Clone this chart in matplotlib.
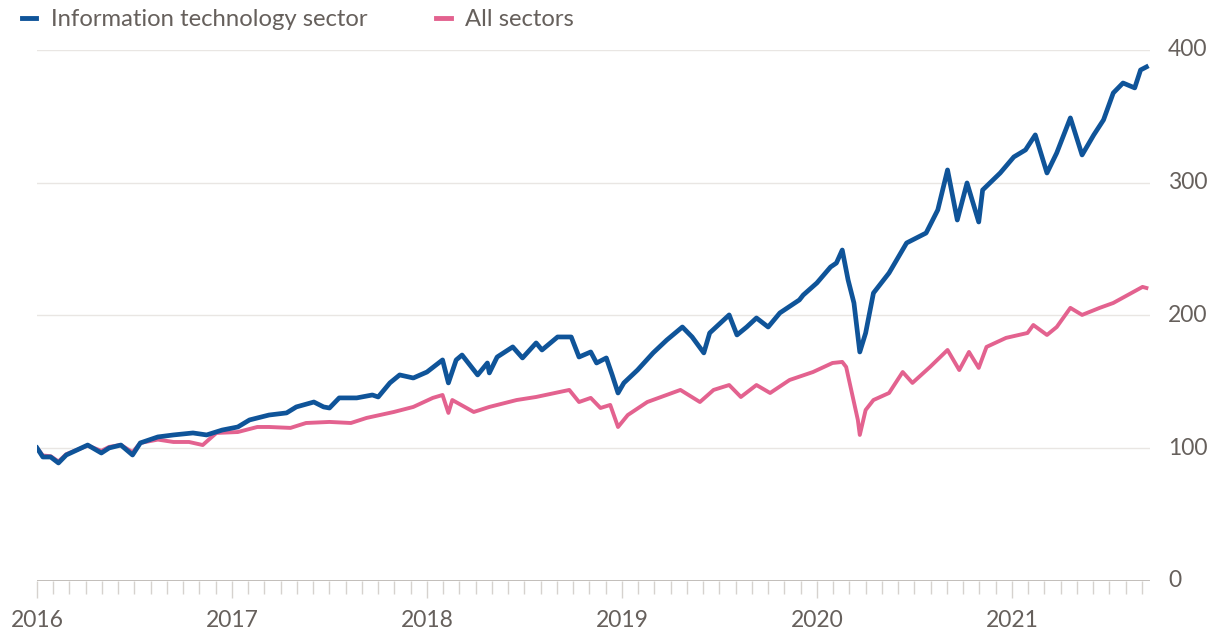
import matplotlib.pyplot as plt
from matplotlib.lines import Line2D
from matplotlib.ticker import MultipleLocator, FixedLocator

# index, start of 2016 = 100; x is decimal year
it_t = [2016.00, 2016.03, 2016.07, 2016.11, 2016.15, 2016.26, 2016.33, 2016.37, 2016.43, 2016.49,
        2016.53, 2016.62, 2016.70, 2016.80, 2016.87, 2016.95, 2017.03, 2017.09, 2017.19, 2017.28,
        2017.33, 2017.42, 2017.47, 2017.50, 2017.55, 2017.64, 2017.72, 2017.75, 2017.81, 2017.86,
        2017.93, 2018.00, 2018.08, 2018.11, 2018.15, 2018.18, 2018.26, 2018.31, 2018.32, 2018.36,
        2018.44, 2018.49, 2018.56, 2018.59, 2018.67, 2018.74, 2018.78, 2018.84, 2018.87, 2018.92,
        2018.95, 2018.98, 2019.01, 2019.08, 2019.16, 2019.23, 2019.31, 2019.36, 2019.42, 2019.45,
        2019.55, 2019.59, 2019.64, 2019.69, 2019.75, 2019.81, 2019.91, 2019.93, 2020.00,
        2020.07, 2020.10, 2020.13, 2020.16, 2020.19, 2020.22, 2020.25, 2020.29, 2020.37, 2020.46,
        2020.56, 2020.62, 2020.67, 2020.72, 2020.77, 2020.83, 2020.85, 2020.94, 2021.01, 2021.07,
        2021.12, 2021.18, 2021.23, 2021.30, 2021.36, 2021.42, 2021.47, 2021.52, 2021.57, 2021.63,
        2021.66, 2021.69]
it_v = [100.2, 93.4, 93.4, 88.9, 94.9, 102.4, 96.4, 100.2, 102.4, 94.9,
        104.0, 108.5, 110.0, 111.5, 110.0, 113.7, 116.0, 121.3, 125.0, 126.6,
        131.1, 134.8, 131.1, 130.3, 137.9, 137.9, 140.1, 138.6, 149.2, 155.2,
        152.9, 157.4, 166.5, 149.2, 166.5, 170.2, 155.2, 164.2, 156.7, 168.7,
        176.3, 168.0, 179.3, 174.0, 183.8, 183.8, 168.7, 172.5, 164.2, 168.0,
        155.2, 141.6, 149.2, 158.9, 171.8, 181.5, 191.3, 183.8, 171.8, 186.8,
        200.4, 185.3, 191.3, 198.1, 191.3, 201.9, 211.7, 215.4, 224.5,
        236.5, 239.5, 249.3, 226.7, 209.4, 172.5, 186.8, 216.9, 232.0, 254.6,
        262.1, 279.5, 309.6, 271.9, 299.8, 270.4, 294.5, 307.3, 319.4, 324.7,
        336.0, 307.3, 322.4, 348.8, 320.9, 336.0, 347.3, 367.6, 375.1, 371.4,
        384.9, 387.2]

all_t = [2016.00, 2016.03, 2016.07, 2016.11, 2016.15, 2016.26, 2016.33, 2016.37, 2016.43, 2016.49,
         2016.53, 2016.62, 2016.70, 2016.78, 2016.85, 2016.92, 2017.03, 2017.13, 2017.19, 2017.30,
         2017.38, 2017.50, 2017.61, 2017.69, 2017.83, 2017.93, 2018.03, 2018.08, 2018.11, 2018.13,
         2018.24, 2018.32, 2018.46, 2018.56, 2018.73, 2018.78, 2018.84, 2018.89, 2018.94, 2018.98,
         2019.03, 2019.13, 2019.30, 2019.40, 2019.47, 2019.55, 2019.61, 2019.69, 2019.76, 2019.86,
         2019.98, 2020.08, 2020.13, 2020.15, 2020.21, 2020.22, 2020.25,
         2020.29, 2020.37, 2020.44, 2020.49, 2020.58, 2020.67, 2020.73, 2020.78, 2020.83, 2020.87,
         2020.97, 2021.08, 2021.11, 2021.18, 2021.23, 2021.30, 2021.36, 2021.45, 2021.52, 2021.67,
         2021.69]
all_v = [100.2, 94.5, 94.0, 90.0, 95.5, 102.0, 98.0, 101.0, 102.5, 97.0,
         104.0, 106.5, 104.7, 104.7, 102.4, 111.5, 112.2, 116.0, 116.0, 115.3,
         119.0, 119.8, 119.0, 122.8, 127.3, 131.1, 137.9, 140.1, 126.6, 136.3,
         127.3, 131.1, 136.3, 138.6, 143.9, 134.8, 137.9, 130.3, 132.6, 116.0,
         125.0, 134.8, 143.9, 134.8, 143.9, 147.6, 138.6, 147.6, 141.6, 151.4,
         157.4, 164.2, 165.0, 161.2, 121.3, 110.0, 128.8,
         136.3, 141.6, 157.4, 149.2, 161.2, 174.0, 158.9, 172.5, 160.5, 176.3,
         183.1, 186.8, 192.8, 185.3, 191.3, 205.7, 200.4, 205.7, 209.4, 221.5,
         220.7]

years = [2016, 2017, 2018, 2019, 2020, 2021]
y_ticks = [0, 100, 200, 300, 400]

blue = '#0f5499'
pink = '#e3628f'
grey = '#66605c'

plt.rcParams['font.family'] = ['Lato', 'DejaVu Sans']

fig = plt.figure(figsize=(12.13, 6.36), dpi=100)
ax = fig.add_axes([0.0305, 0.0865, 0.9175, 0.835])

for y in y_ticks[1:]:
    ax.axhline(y, color='#e9e6e3', lw=1, zorder=0)
ax.axhline(0, color='#b8b3ae', lw=1.2, zorder=1)

ax.plot(all_t, all_v, color=pink, lw=2.8, solid_joinstyle='round', zorder=3)
ax.plot(it_t, it_v, color=blue, lw=3.4, solid_joinstyle='round', zorder=4)

ax.set_xlim(2016, 2021.708)
ax.set_ylim(0, 400)

for s in ax.spines.values():
    s.set_visible(False)

ax.xaxis.set_major_locator(FixedLocator(years))
ax.set_xticklabels([str(y) for y in years])
ax.xaxis.set_minor_locator(MultipleLocator(1 / 12))
ax.tick_params(axis='x', which='major', length=12, color='#d6d2ce', width=1,
               labelsize=16.5, labelcolor=grey, pad=9)
ax.tick_params(axis='x', which='minor', length=9, color='#d6d2ce', width=1)

ax.yaxis.tick_right()
ax.set_yticks(y_ticks)
ax.tick_params(axis='y', length=0, labelsize=16.5, labelcolor=grey, pad=13)
for lbl in ax.get_yticklabels():
    lbl.set_verticalalignment('center')

handles = [Line2D([], [], color=blue, lw=3.5), Line2D([], [], color=pink, lw=3.5)]
fig.legend(handles, ['Information technology sector', 'All sectors'],
           loc='center left', bbox_to_anchor=(0.018, 1 - 20 / 636), ncol=2, frameon=False,
           borderpad=0, borderaxespad=0,
           handlelength=0.6, handletextpad=0.6, columnspacing=2.9,
           fontsize=17.2, labelcolor=grey)

fig.savefig('out.png', dpi=100, facecolor='white')
